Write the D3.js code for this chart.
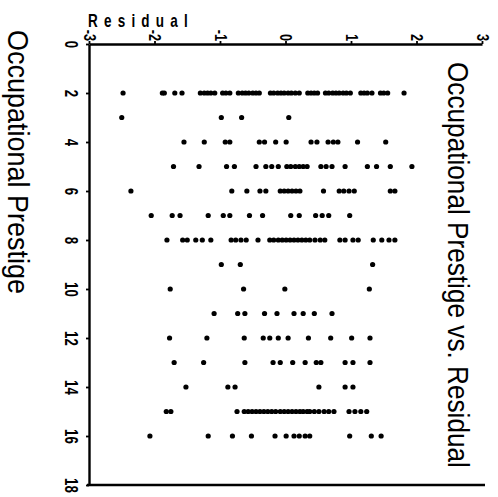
<!DOCTYPE html>
<html><head><meta charset="utf-8">
<script src="https://cdn.jsdelivr.net/npm/d3@7"></script>
<style>body{margin:0;background:#fff}svg{display:block}</style>
</head><body>
<script>
const prestigeTicks = [0, 2, 4, 6, 8, 10, 12, 14, 16, 18];
const residualTicks = [-3, -2, -1, 0, 1, 2, 3];
const prestigeLevels = [2, 3, 4, 5, 6, 7, 8, 9, 10, 11, 12, 13, 14, 15, 16];
const residualRows = [
  [-2.48, -1.88, -1.85, -1.69, -1.58, -1.30, -1.24, -1.19, -1.14, -1.08, -0.96, -0.91, -0.85, -0.72, -0.66, -0.61, -0.56, -0.50, -0.45, -0.40, -0.23, -0.18, -0.12, -0.07, -0.02, 0.04, 0.09, 0.15, 0.21, 0.34, 0.39, 0.44, 0.49, 0.61, 0.66, 0.72, 0.77, 0.82, 0.88, 0.93, 0.99, 1.15, 1.20, 1.25, 1.32, 1.45, 1.50, 1.56, 1.81],
  [-2.50, -0.98, -0.67, 0.05],
  [-1.55, -1.24, -0.92, -0.85, -0.40, -0.32, -0.15, 0.01, 0.39, 0.48, 0.65, 0.73, 0.80, 1.10, 1.53],
  [-1.71, -1.32, -0.90, -0.78, -0.45, -0.30, -0.21, -0.11, 0.02, 0.08, 0.15, 0.21, 0.27, 0.33, 0.54, 0.62, 0.71, 0.91, 1.25, 1.39, 1.60, 1.93],
  [-2.36, -0.82, -0.59, -0.39, -0.30, -0.08, -0.02, 0.04, 0.10, 0.16, 0.22, 0.58, 0.82, 0.89, 0.97, 1.05, 1.60, 1.67],
  [-2.05, -1.73, -1.61, -1.18, -0.95, -0.85, -0.55, -0.35, 0.08, 0.21, 0.46, 0.56, 0.66, 0.98],
  [-1.81, -1.57, -1.50, -1.37, -1.27, -1.14, -0.83, -0.76, -0.68, -0.60, -0.42, -0.24, -0.18, -0.11, -0.05, 0.01, 0.07, 0.13, 0.19, 0.25, 0.31, 0.37, 0.45, 0.53, 0.60, 0.83, 0.91, 1.03, 1.11, 1.34, 1.47, 1.58, 1.67],
  [-0.98, -0.69, 1.33],
  [-1.76, -0.64, -0.01, 1.28],
  [-1.09, -0.73, -0.62, -0.32, -0.13, 0.13, 0.27, 0.44, 0.71],
  [-1.77, -1.20, -0.63, -0.34, -0.24, -0.11, 0.04, 0.35, 0.69, 1.01, 1.29],
  [-1.70, -1.25, -0.62, -0.19, -0.08, 0.11, 0.30, 0.47, 0.54, 0.91, 1.03, 1.29],
  [-1.52, -0.88, -0.77, 0.51, 0.91, 1.03],
  [-1.82, -1.75, -0.74, -0.63, -0.57, -0.51, -0.45, -0.39, -0.33, -0.27, -0.21, -0.15, -0.08, -0.02, 0.04, 0.10, 0.16, 0.22, 0.27, 0.33, 0.37, 0.44, 0.51, 0.59, 0.66, 0.74, 0.97, 1.06, 1.15, 1.24],
  [-2.07, -1.18, -0.81, -0.52, -0.16, 0.01, 0.13, 0.21, 0.30, 0.37, 0.98, 1.31, 1.46]
];
const titleText = "Occupational Prestige vs. Residual";
const prestigeLabel = "Occupational Prestige";
const residualLabel = "Residual";

const W = 498, H = 497;
const svg = d3.select("body").append("svg").attr("width", W).attr("height", H);

const x = d3.scaleLinear().domain([-3, 3]).range([89, 482]);
const y = d3.scaleLinear().domain([0, 18]).range([44, 485]);

const points = [];
prestigeLevels.forEach((p, i) => residualRows[i].forEach(r => points.push({p, r})));

// top (residual) axis
const gx = svg.append("g").attr("transform", `translate(0,${y(0)})`)
  .call(d3.axisTop(x).tickValues(residualTicks).tickSize(3).tickSizeOuter(0)
    .tickFormat(d => d < 0 ? "-" + Math.abs(d) : String(d)));
gx.select(".domain").attr("stroke", "#000").attr("stroke-width", 2.4);
gx.selectAll(".tick line").attr("stroke", "#000").attr("stroke-width", 1.8);
gx.selectAll(".tick text")
  .attr("x", null).attr("y", null).attr("dy", null)
  .attr("transform", "translate(-6,-3) rotate(90) scale(0.8,1)")
  .attr("text-anchor", "end")
  .attr("font-family", "'Liberation Sans', Arial, sans-serif")
  .attr("font-weight", "bold").attr("font-size", 16).attr("fill", "#000");

// left (prestige) axis
const gy = svg.append("g").attr("transform", `translate(${x(-3)},0)`)
  .call(d3.axisLeft(y).tickValues(prestigeTicks).tickSize(3).tickSizeOuter(0));
gy.select(".domain").attr("stroke", "#000").attr("stroke-width", 2.4);
gy.selectAll(".tick line").attr("stroke", "#000").attr("stroke-width", 1.8);
gy.selectAll(".tick text")
  .attr("x", null).attr("y", null).attr("dy", null)
  .attr("transform", "translate(-24,0) rotate(90) scale(0.7,1)")
  .attr("text-anchor", "middle")
  .attr("font-family", "'Liberation Sans', Arial, sans-serif")
  .attr("font-weight", "bold").attr("font-size", 19).attr("fill", "#000");

// bottom frame line
svg.append("line")
  .attr("x1", x(-3) - 2).attr("x2", x(3) + 3)
  .attr("y1", y(18)).attr("y2", y(18))
  .attr("stroke", "#000").attr("stroke-width", 2.4);

// points
svg.append("g").selectAll("circle").data(points).join("circle")
  .attr("cx", d => x(d.r)).attr("cy", d => y(d.p))
  .attr("r", 2.6).attr("fill", "#000");

// Residual label (horizontal)
svg.append("text")
  .attr("transform", "translate(88,27) scale(0.75,1)")
  .attr("textLength", 133).attr("lengthAdjust", "spacing")
  .attr("font-family", "'Liberation Sans', Arial, sans-serif")
  .attr("font-weight", "bold").attr("font-size", 18).attr("fill", "#000")
  .text(residualLabel);

// left title
svg.append("text")
  .attr("transform", "translate(8,30) rotate(90) scale(0.9,1)")
  .attr("font-family", "'Liberation Sans', Arial, sans-serif")
  .attr("font-size", 30).attr("fill", "#000")
  .text(prestigeLabel);

// right title
svg.append("text")
  .attr("transform", "translate(448,62) rotate(90) scale(0.873,1)")
  .attr("font-family", "'Liberation Sans', Arial, sans-serif")
  .attr("font-size", 30).attr("fill", "#000")
  .text(titleText);
</script>
</body></html>
